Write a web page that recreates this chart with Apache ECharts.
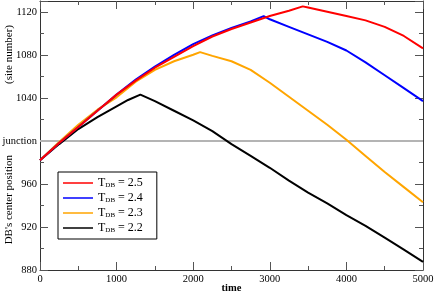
<!DOCTYPE html>
<html><head><meta charset="utf-8">
<script src="https://cdn.jsdelivr.net/npm/echarts@6/dist/echarts.min.js"></script>
<style>html,body{margin:0;padding:0;background:#fff}#c{width:436px;height:293px}</style>
</head><body><div id="c"></div>
<script>
const seriesNames = ['2.5', '2.4', '2.3', '2.2'];
const seriesColors = ['#ff0000', '#0000ff', '#ffa500', '#000000'];
const red = [[0,982],[250,998],[500,1013],[750,1028],[1000,1043],[1250,1056],[1500,1068],[1750,1078],[2000,1088],[2250,1097],[2500,1104],[2750,1110],[3000,1116],[3250,1121],[3430,1125],[3500,1124],[3750,1120],[4000,1116],[4250,1112],[4500,1106],[4750,1097.5],[5000,1086]];
const blue = [[0,982],[250,998],[500,1013],[750,1028],[1000,1043],[1250,1057],[1500,1069],[1750,1080],[2000,1090],[2250,1098],[2500,1105],[2750,1111],[2920,1116],[3000,1113],[3250,1106],[3500,1099],[3750,1092],[4000,1084],[4250,1073],[4500,1061],[4750,1049],[5000,1037]];
const orange = [[0,982],[250,999],[500,1015],[750,1029],[1000,1040.5],[1250,1055],[1500,1066],[1750,1074],[2000,1080],[2090,1082.5],[2250,1079],[2500,1074],[2750,1066],[3000,1054],[3250,1041],[3500,1028],[3750,1015],[4000,1001],[4250,986],[4500,971],[4750,957],[5000,943]];
const black = [[0,982],[250,997],[500,1011],[750,1022],[1000,1032],[1150,1038],[1310,1043],[1500,1037],[1750,1028],[2000,1019],[2250,1009],[2500,997],[2750,986],[3000,975],[3250,963],[3500,952],[3750,942],[4000,931],[4250,921],[4500,910],[4750,899],[5000,887.5]];
const seriesData = [red, blue, orange, black];
const junctionValue = 1000;
const xMin = 0, xMax = 5000, xStep = 1000;
const yMin = 880, yMax = 1130, yStep = 40;

const FONT = 'Liberation Serif';
const FS = 10.5;
const chart = echarts.init(document.getElementById('c'), null, {renderer: 'canvas'});
const tickCol = '#555';
function xAx(pos, showLabel) {
  return {
    type: 'value', position: pos, min: xMin, max: xMax, interval: xStep,
    axisLine: {show: true, onZero: false, lineStyle: {color: '#333', width: 1}},
    axisTick: {show: true, inside: true, length: 8, lineStyle: {color: tickCol}},
    minorTick: {show: true, splitNumber: 2, length: 4, lineStyle: {color: tickCol}},
    splitLine: {show: false},
    axisLabel: {show: showLabel, margin: 4, color: '#000', fontFamily: FONT, fontSize: FS,
      formatter: function (v) { return String(v); }},
    name: showLabel ? 'time' : '', nameLocation: 'middle', nameGap: 13, nameMoveOverlap: false,
    nameTextStyle: {fontFamily: FONT, fontSize: FS, fontWeight: 'bold', color: '#000', padding: 0}
  };
}
function yAx(pos, showLabel) {
  return {
    type: 'value', position: pos, min: yMin, max: yMax, interval: yStep,
    axisLine: {show: true, onZero: false, lineStyle: {color: '#333', width: 1}},
    axisTick: {show: true, inside: true, length: 8, lineStyle: {color: tickCol}},
    minorTick: {show: true, splitNumber: 2, length: 4, lineStyle: {color: tickCol}},
    splitLine: {show: false},
    axisLabel: {show: showLabel, margin: 3, color: '#000', fontFamily: FONT, fontSize: FS,
      showMaxLabel: true,
      formatter: function (v) {
        if (v === junctionValue) return 'junction';
        if ((v - yMin) % yStep !== 0) return '';
        return String(v);
      }}
  };
}
const series = seriesNames.map((n, i) => ({
  name: n, type: 'line', data: seriesData[i], symbol: 'none', xAxisIndex: 0, yAxisIndex: 0,
  lineStyle: {color: seriesColors[i], width: 2}, itemStyle: {color: seriesColors[i]},
  z: 10 - i,
  markLine: i === 0 ? {silent: true, symbol: 'none', label: {show: false},
    lineStyle: {color: '#b4b4b4', width: 2, type: 'solid'}, data: [{yAxis: junctionValue}]} : undefined
}));
chart.setOption({
  backgroundColor: '#fff',
  animation: false,
  grid: {left: 40, right: 13, top: 1, bottom: 23, containLabel: false, outerBoundsMode: 'none'},
  xAxis: [xAx('bottom', true), xAx('top', false)],
  yAxis: [yAx('left', true), yAx('right', false)],
  legend: {
    orient: 'vertical', left: 58, top: 172, itemWidth: 30, itemHeight: 1.5, itemGap: 3,
    icon: 'rect', borderColor: '#000', borderWidth: 1, padding: [5, 14, 5, 5],
    data: seriesNames,
    formatter: function (n) { return '{t|T}{s|DB}{t| = ' + n + '}'; },
    textStyle: {fontFamily: FONT, color: '#000', rich: {
      t: {fontFamily: FONT, fontSize: 12, color: '#000', lineHeight: 12},
      s: {fontFamily: FONT, fontSize: 7, color: '#000', verticalAlign: 'bottom', lineHeight: 12, padding: [5, 0, 0, 0]}
    }}
  },
  graphic: [
    {type: 'text', left: 4, top: 25, rotation: Math.PI / 2, style: {text: '(site number)', font: '11px "Liberation Serif"', fill: '#000'}},
    {type: 'text', left: 4, top: 155, rotation: Math.PI / 2, style: {text: "DB's center position", font: '11px "Liberation Serif"', fill: '#000'}}
  ],
  series: series
});
</script></body></html>
